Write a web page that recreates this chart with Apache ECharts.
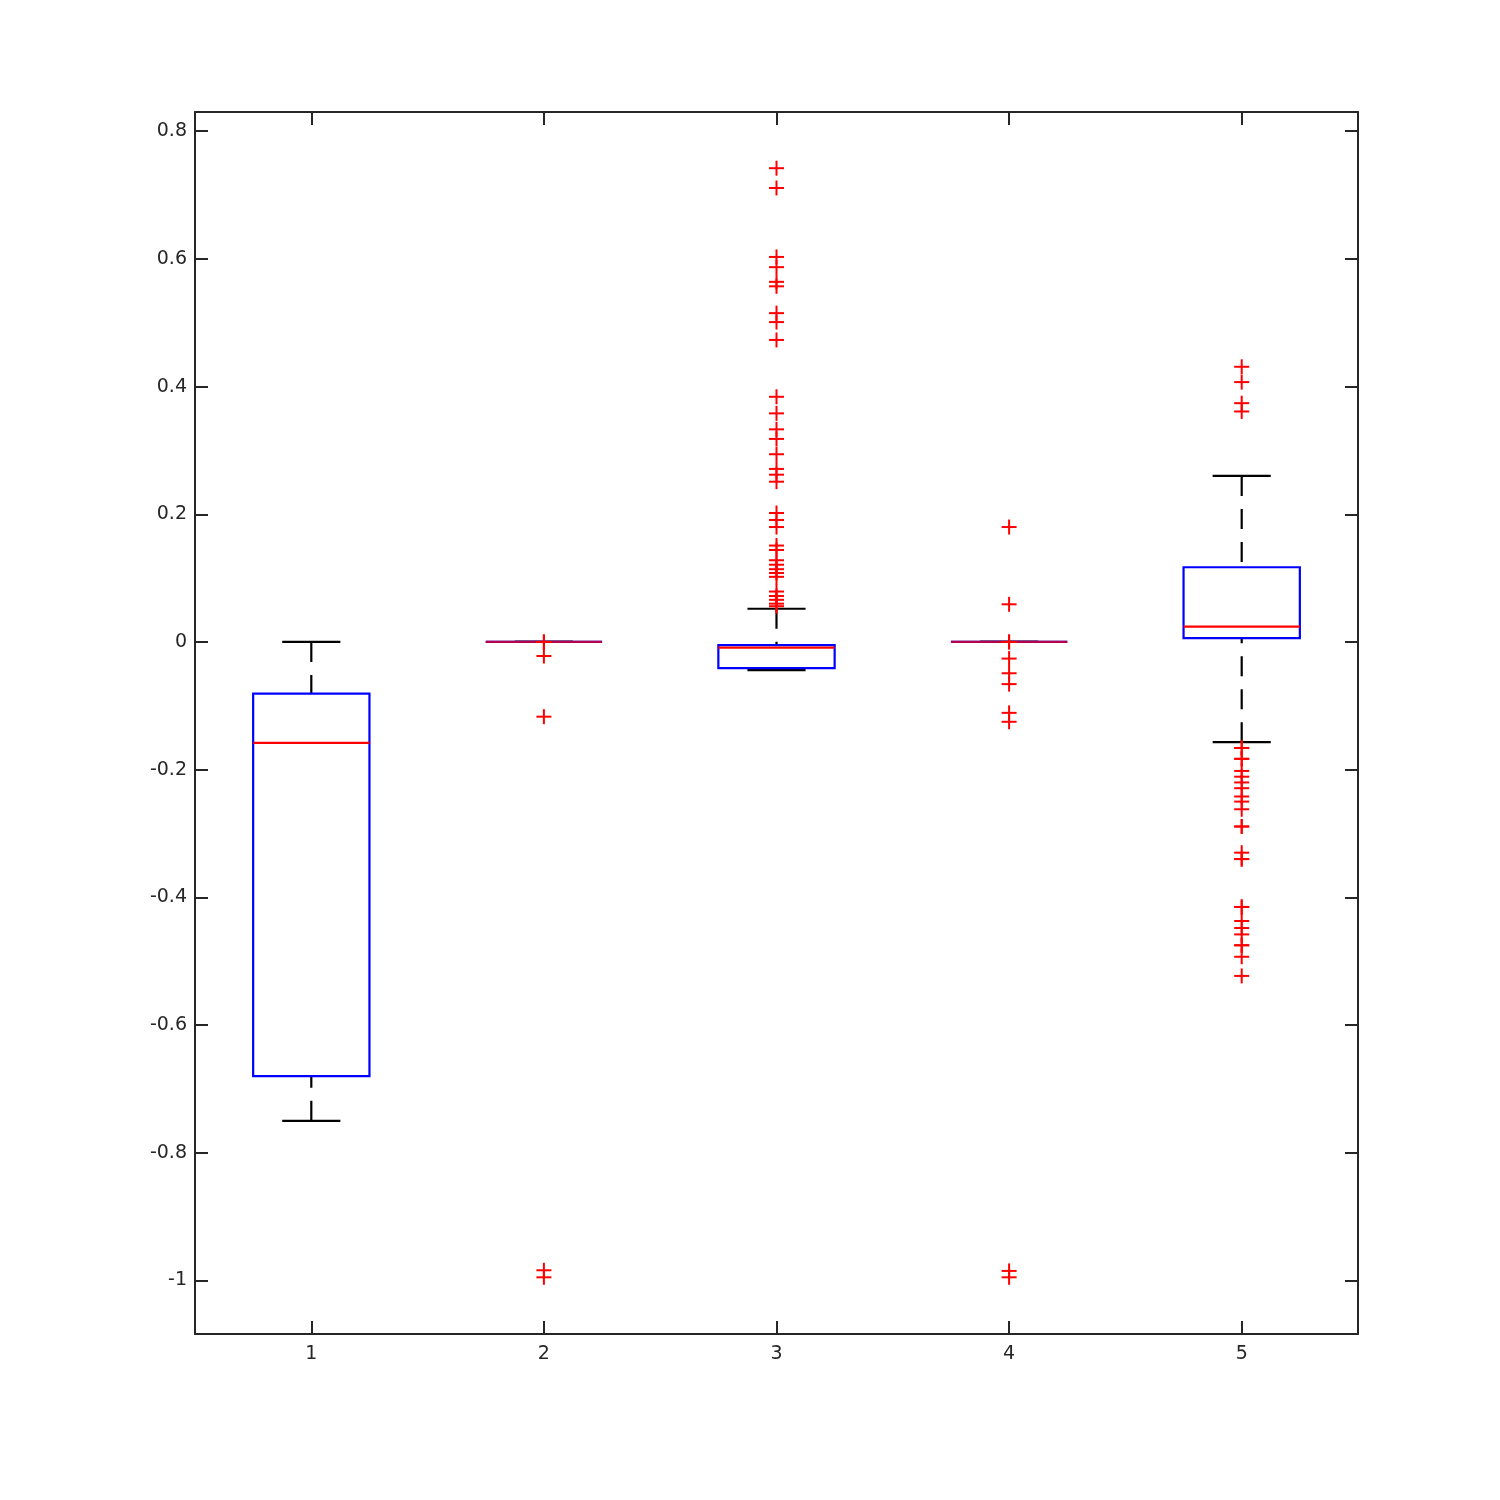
<!DOCTYPE html>
<html>
<head>
<meta charset="utf-8">
<script src="https://cdn.jsdelivr.net/npm/echarts@6/dist/echarts.min.js"></script>
<style>
html,body{margin:0;padding:0;background:#fff;}
#chart{width:1500px;height:1500px;}
</style>
</head>
<body>
<div id="chart"></div>
<script>
// ---- data ----
const categories = [1, 2, 3, 4, 5];
const whiskerLow  = [-0.750, 0, -0.044, 0, -0.157];
const q1          = [-0.680, 0, -0.041, 0,  0.006];
const median      = [-0.158, 0, -0.009, 0,  0.024];
const q3          = [-0.081, 0, -0.005, 0,  0.117];
const whiskerHigh = [0.000,  0,  0.052, 0,  0.260];

const outliers1 = [];
const outliers2 = [0, 0, -0.022, -0.117, -0.984, -0.995];
const outliers3 = [0.742, 0.711, 0.603, 0.587, 0.564, 0.557, 0.515, 0.501, 0.473,
  0.384, 0.358, 0.333, 0.318, 0.294, 0.271, 0.262, 0.251, 0.202, 0.191, 0.180,
  0.151, 0.144, 0.128, 0.121, 0.114, 0.108, 0.102, 0.079, 0.072, 0.066, 0.060, 0.056];
const outliers4 = [0.180, 0.059, 0, 0, -0.026, -0.049, -0.066, -0.111, -0.125, -0.985, -0.995];
const outliers5 = [0.431, 0.407, 0.374, 0.361,
  -0.166, -0.166, -0.183, -0.183, -0.202, -0.211, -0.220, -0.229, -0.242, -0.250,
  -0.262, -0.289, -0.289, -0.330, -0.340, -0.340, -0.415, -0.415, -0.437, -0.448,
  -0.458, -0.475, -0.475, -0.493, -0.523];
const outlierGroups = [outliers1, outliers2, outliers3, outliers4, outliers5];

const xTicks = [1, 2, 3, 4, 5];
const yTicks = [-1, -0.8, -0.6, -0.4, -0.2, 0, 0.2, 0.4, 0.6, 0.8];

// ---- build series data ----
const boxData = categories.map((c, i) => [c, whiskerLow[i], q1[i], median[i], q3[i], whiskerHigh[i]]);
const outlierData = [];
outlierGroups.forEach((arr, i) => arr.forEach(v => outlierData.push([categories[i], v])));

const AXIS_COLOR = '#262626';
const FONT = 'DejaVu Sans';

function renderBox(params, api) {
  const x = api.value(0);
  const lo = api.coord([x, api.value(1)]);
  const b1 = api.coord([x, api.value(2)]);
  const md = api.coord([x, api.value(3)]);
  const b3 = api.coord([x, api.value(4)]);
  const hi = api.coord([x, api.value(5)]);
  const boxW = api.size([0.5, 0])[0];
  const capW = api.size([0.25, 0])[0];
  const cx = lo[0];
  const dash = [20, 13];
  const lw = 2.2;
  const children = [];
  if (Math.abs(hi[1] - b3[1]) > 0.5) {
    children.push({type: 'line', shape: {x1: cx, y1: hi[1], x2: cx, y2: b3[1]},
      style: {stroke: '#000', lineWidth: lw, lineDash: dash}});
  }
  if (Math.abs(lo[1] - b1[1]) > 0.5) {
    children.push({type: 'line', shape: {x1: cx, y1: lo[1], x2: cx, y2: b1[1]},
      style: {stroke: '#000', lineWidth: lw, lineDash: dash}});
  }
  children.push({type: 'line', shape: {x1: cx - capW / 2, y1: hi[1], x2: cx + capW / 2, y2: hi[1]},
    style: {stroke: '#000', lineWidth: lw}});
  children.push({type: 'line', shape: {x1: cx - capW / 2, y1: lo[1], x2: cx + capW / 2, y2: lo[1]},
    style: {stroke: '#000', lineWidth: lw}});
  children.push({type: 'rect', shape: {x: cx - boxW / 2, y: b3[1], width: boxW, height: b1[1] - b3[1]},
    style: {fill: 'none', stroke: '#0000ff', lineWidth: lw}});
  children.push({type: 'line', shape: {x1: cx - boxW / 2, y1: md[1], x2: cx + boxW / 2, y2: md[1]},
    style: {stroke: Math.abs(b1[1] - b3[1]) < 0.5 ? '#b4004b' : '#ff0000', lineWidth: lw}});
  return {type: 'group', children};
}

function renderPlus(params, api) {
  const p = api.coord([api.value(0), api.value(1)]);
  const s = 7.5;
  return {type: 'group', children: [
    {type: 'line', shape: {x1: p[0] - s, y1: p[1], x2: p[0] + s, y2: p[1]}, style: {stroke: '#ff0000', lineWidth: 2}},
    {type: 'line', shape: {x1: p[0], y1: p[1] - s, x2: p[0], y2: p[1] + s}, style: {stroke: '#ff0000', lineWidth: 2}}
  ]};
}

const commonAxisLine = {show: true, onZero: false, lineStyle: {color: AXIS_COLOR, width: 2}};
const commonTick = {show: true, inside: true, length: 13, lineStyle: {color: AXIS_COLOR, width: 2}};

const chart = echarts.init(document.getElementById('chart'), null, {renderer: 'canvas'});
chart.setOption({
  animation: false,
  backgroundColor: '#ffffff',
  grid: {left: 195, right: 142, top: 112, bottom: 166, containLabel: false},
  xAxis: [
    {type: 'value', min: 0.5, max: 5.5, position: 'bottom',
      axisLine: commonAxisLine,
      axisTick: Object.assign({customValues: xTicks}, commonTick),
      axisLabel: {customValues: xTicks, color: AXIS_COLOR, fontFamily: FONT, fontSize: 19, margin: 11,
        formatter: v => String(v)},
      splitLine: {show: false}},
    {type: 'value', min: 0.5, max: 5.5, position: 'top',
      axisLine: commonAxisLine,
      axisTick: Object.assign({customValues: xTicks}, commonTick),
      axisLabel: {show: false},
      splitLine: {show: false}}
  ],
  yAxis: [
    {type: 'value', min: -1.0838, max: 0.830, position: 'left',
      axisLine: commonAxisLine,
      axisTick: Object.assign({customValues: yTicks}, commonTick),
      axisLabel: {customValues: yTicks, color: AXIS_COLOR, fontFamily: FONT, fontSize: 19, margin: 8,
        formatter: v => String(+(+v).toFixed(1))},
      splitLine: {show: false}},
    {type: 'value', min: -1.0838, max: 0.830, position: 'right',
      axisLine: commonAxisLine,
      axisTick: Object.assign({customValues: yTicks}, commonTick),
      axisLabel: {show: false},
      splitLine: {show: false}}
  ],
  series: [
    {type: 'custom', xAxisIndex: 0, yAxisIndex: 0, renderItem: renderBox, data: boxData,
      encode: {x: 0, y: [1, 2, 3, 4, 5]}, z: 2},
    {type: 'custom', xAxisIndex: 0, yAxisIndex: 0, renderItem: renderPlus, data: outlierData,
      encode: {x: 0, y: 1}, z: 3}
  ]
});
</script>
</body>
</html>
